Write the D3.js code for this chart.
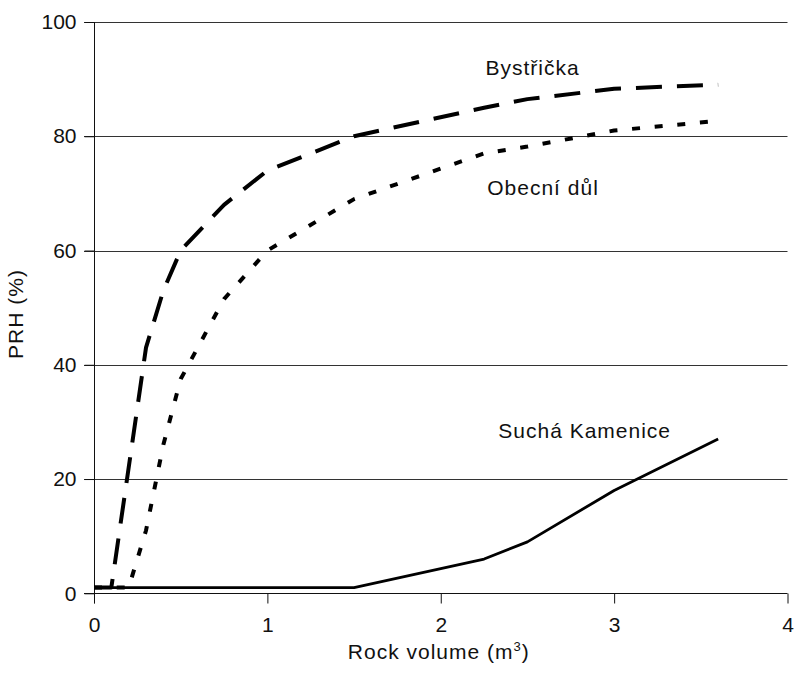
<!DOCTYPE html>
<html>
<head>
<meta charset="utf-8">
<script src="https://cdn.jsdelivr.net/npm/d3@7"></script>
<style>
  body { margin: 0; background: #fff; }
  text { font-family: 'Liberation Sans', Arial, Helvetica, sans-serif; fill: #111; }
</style>
</head>
<body>
<div id="chart"></div>
<script>
// DATA
var seriesNames = ["Bystřička", "Obecní důl", "Suchá Kamenice"];

var bystrickaX = [0, 0.1, 0.3, 0.4, 0.5, 0.75, 1, 1.5, 2.25, 2.5, 3, 3.3, 3.6];
var bystrickaY = [1, 1, 43, 53, 60, 68, 74, 80, 85, 86.5, 88.3, 88.7, 89];

var obecniX = [0, 0.2, 0.3, 0.4, 0.5, 0.75, 1, 1.5, 2.25, 2.5, 3, 3.6];
var obecniY = [1, 1, 11, 26, 37.5, 51.5, 60, 69, 77, 78.2, 81, 82.7];

var suchaX = [0, 1.5, 2.25, 2.5, 3, 3.6];
var suchaY = [1, 1, 6, 9, 18, 27];

var xTicks = [0, 1, 2, 3, 4];
var yTicks = [0, 20, 40, 60, 80, 100];

// LAYOUT
var W = 794, H = 673;
var margin = {top: 22, right: 6.5, bottom: 79.7, left: 94};
var fontSize = 21;

var svg = d3.select("#chart").append("svg")
  .attr("width", W)
  .attr("height", H);

var x = d3.scaleLinear().domain([0, 4]).range([margin.left, W - margin.right]);
var y = d3.scaleLinear().domain([0, 100]).range([H - margin.bottom, margin.top]);

// gridlines (incl. tick stubs to the left)
svg.append("g")
  .selectAll("line")
  .data(yTicks.filter(function(d) { return d > 0; }))
  .enter().append("line")
  .attr("x1", x(0) - 10)
  .attr("x2", x(4))
  .attr("y1", function(d) { return Math.round(y(d)) + 0.5; })
  .attr("y2", function(d) { return Math.round(y(d)) + 0.5; })
  .attr("stroke", "#333")
  .attr("stroke-width", 1);

// axes
var yAxis = d3.axisLeft(y).tickValues(yTicks).tickSize(10).tickPadding(8)
  .tickFormat(d3.format("d"));
var xAxis = d3.axisBottom(x).tickValues(xTicks).tickSize(10).tickPadding(14)
  .tickFormat(d3.format("d"));

var gy = svg.append("g")
  .attr("transform", "translate(" + (Math.round(x(0)) + 0.5) + ",0)")
  .call(yAxis);
var gx = svg.append("g")
  .attr("transform", "translate(0," + (Math.round(y(0)) + 0.5) + ")")
  .call(xAxis);

[gx, gy].forEach(function(g) {
  g.select(".domain").remove();
  g.selectAll(".tick line").attr("stroke", "#111");
  g.selectAll("text")
    .attr("font-size", fontSize)
    .attr("font-family", "'Liberation Sans', Arial, sans-serif")
    .attr("fill", "#111");
});

// axis lines
svg.append("line")
  .attr("x1", Math.round(x(0)) + 0.5).attr("x2", Math.round(x(0)) + 0.5)
  .attr("y1", y(100)).attr("y2", y(0) + 10)
  .attr("stroke", "#111");
svg.append("line")
  .attr("x1", x(0) - 10).attr("x2", x(4))
  .attr("y1", Math.round(y(0)) + 0.5).attr("y2", Math.round(y(0)) + 0.5)
  .attr("stroke", "#111");

// lines
var line = d3.line()
  .x(function(d) { return x(d[0]); })
  .y(function(d) { return y(d[1]); });

var series = [
  {name: seriesNames[0], pts: d3.zip(bystrickaX, bystrickaY), dash: "26,15", width: 4},
  {name: seriesNames[1], pts: d3.zip(obecniX, obecniY), dash: "8,14.7", width: 4},
  {name: seriesNames[2], pts: d3.zip(suchaX, suchaY), dash: null, width: 2.8}
];

series.forEach(function(s) {
  svg.append("path")
    .datum(s.pts)
    .attr("d", line)
    .attr("fill", "none")
    .attr("stroke", "#000")
    .attr("stroke-width", s.width)
    .attr("stroke-linejoin", "round")
    .attr("stroke-dasharray", s.dash);
});

// series labels
var labelPos = [[2.53, 90.8], [2.59, 69.8], [2.83, 27.1]];
svg.append("g")
  .selectAll("text")
  .data(seriesNames)
  .enter().append("text")
  .attr("x", function(d, i) { return x(labelPos[i][0]); })
  .attr("y", function(d, i) { return y(labelPos[i][1]); })
  .attr("text-anchor", "middle")
  .attr("font-size", fontSize)
  .attr("letter-spacing", 1)
  .text(function(d) { return d; });

// axis titles
var xt = svg.append("text")
  .attr("x", x(2) - 2)
  .attr("y", 659)
  .attr("text-anchor", "middle")
  .attr("font-size", fontSize)
  .attr("letter-spacing", 1);
xt.append("tspan").text("Rock volume (m");
xt.append("tspan").attr("font-size", 13).attr("dy", -8).text("3");
xt.append("tspan").attr("dy", 8).text(")");

svg.append("text")
  .attr("transform", "translate(23," + 314 + ") rotate(-90)")
  .attr("text-anchor", "middle")
  .attr("font-size", fontSize)
  .attr("letter-spacing", 1)
  .text("PRH (%)");
</script>
</body>
</html>
